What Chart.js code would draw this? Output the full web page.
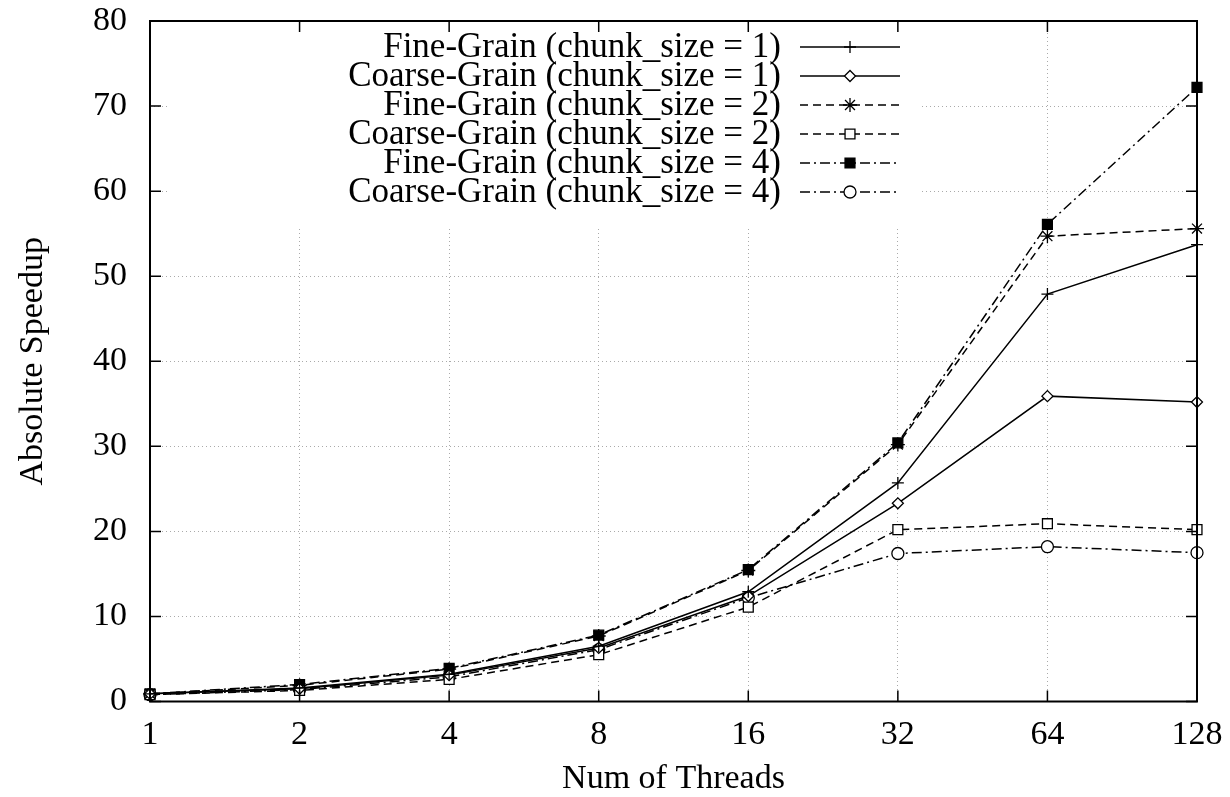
<!DOCTYPE html>
<html>
<head>
<meta charset="utf-8">
<script src="https://cdn.jsdelivr.net/npm/chart.js@4/dist/chart.umd.min.js"></script>
<style>
  html, body { margin: 0; padding: 0; background: #fff; }
  #wrap { width: 1230px; height: 797px; position: relative; }
</style>
</head>
<body>
<div id="wrap"><canvas id="speedup"></canvas></div>
<script>
// threads (x categories, log2 spaced)
const threads = ['1', '2', '4', '8', '16', '32', '64', '128'];
const yTicks = [0, 10, 20, 30, 40, 50, 60, 70, 80];

// absolute speedup
const fine1   = [0.9, 1.6, 3.2, 6.5, 12.9, 25.7, 47.9, 53.7];
const coarse1 = [0.9, 1.5, 3.1, 6.3, 12.4, 23.3, 35.9, 35.2];
const fine2   = [0.9, 1.9, 3.8, 7.7, 15.4, 30.2, 54.7, 55.6];
const coarse2 = [0.8, 1.3, 2.6, 5.5, 11.1, 20.2, 20.9, 20.2];
const fine4   = [0.9, 2.0, 3.9, 7.8, 15.5, 30.4, 56.1, 72.2];
const coarse4 = [0.8, 1.4, 2.9, 6.1, 12.2, 17.4, 18.2, 17.5];

const FONT = '"Liberation Serif", "Times New Roman", serif';
const FSIZE = 34;
const dashed = [8, 5];
const dashDot = [10, 4, 2, 4];

function serie(label, data, dash, style, radius, fill) {
  return {
    label: label,
    data: data,
    borderColor: '#000',
    borderWidth: 1.5,
    borderDash: dash,
    pointStyle: style,
    pointRadius: radius,
    pointBorderWidth: 1.3,
    pointBorderColor: '#000',
    pointBackgroundColor: fill,
    fill: false,
    tension: 0
  };
}

const datasets = [
  serie('Fine-Grain (chunk_size = 1)', fine1, [], 'cross', 6, '#000'),
  serie('Coarse-Grain (chunk_size = 1)', coarse1, [], 'rectRot', 5.5, '#fff'),
  serie('Fine-Grain (chunk_size = 2)', fine2, dashed, 'star', 7, '#000'),
  serie('Coarse-Grain (chunk_size = 2)', coarse2, dashed, 'rect', 7, '#fff'),
  serie('Fine-Grain (chunk_size = 4)', fine4, dashDot, 'rect', 7, '#000'),
  serie('Coarse-Grain (chunk_size = 4)', coarse4, dashDot, 'circle', 6, '#fff')
];

// blank box behind the key, like gnuplot does
const keyBlank = {
  id: 'keyBlank',
  beforeDatasetsDraw(chart) {
    const a = chart.chartArea, ctx = chart.ctx;
    ctx.save();
    ctx.fillStyle = '#fff';
    ctx.fillRect(a.left + 17, a.top, 920 - (a.left + 17), 228 - a.top);
    ctx.restore();
  }
};

// frame + inward ticks on all four sides
const frame = {
  id: 'frame',
  afterDatasetsDraw(chart) {
    const a = chart.chartArea, ctx = chart.ctx;
    const xs = chart.scales.x, ys = chart.scales.y;
    const t = 11;
    ctx.save();
    ctx.strokeStyle = '#000';
    ctx.lineWidth = 1.5;
    ctx.setLineDash([]);
    ctx.beginPath();
    ys.ticks.forEach(tk => {
      const y = ys.getPixelForValue(tk.value);
      ctx.moveTo(a.left, y); ctx.lineTo(a.left + t, y);
      ctx.moveTo(a.right, y); ctx.lineTo(a.right - t, y);
    });
    threads.forEach((v, i) => {
      const x = xs.getPixelForValue(i);
      ctx.moveTo(x, a.bottom); ctx.lineTo(x, a.bottom - t);
      ctx.moveTo(x, a.top); ctx.lineTo(x, a.top + t);
    });
    ctx.stroke();
    ctx.lineWidth = 2;
    ctx.strokeRect(a.left, a.top, a.right - a.left, a.bottom - a.top);
    ctx.restore();
  }
};

// gnuplot style key: right aligned text, sample line on the right
const gnuKey = {
  id: 'gnuKey',
  afterDatasetsDraw(chart) {
    const a = chart.chartArea, ctx = chart.ctx;
    ctx.save();
    ctx.font = '35px ' + FONT;
    ctx.textAlign = 'right';
    ctx.textBaseline = 'middle';
    chart.data.datasets.forEach((ds, i) => {
      const y = a.top + 26 + i * 29;
      ctx.fillStyle = '#000';
      ctx.fillText(ds.label, 781, y + 1);
      ctx.strokeStyle = '#000';
      ctx.lineWidth = ds.borderWidth;
      ctx.setLineDash(ds.borderDash);
      ctx.beginPath();
      ctx.moveTo(800, y); ctx.lineTo(900, y);
      ctx.stroke();
      ctx.setLineDash([]);
      ctx.fillStyle = ds.pointBackgroundColor;
      ctx.lineWidth = ds.pointBorderWidth;
      Chart.helpers.drawPoint(ctx, {
        pointStyle: ds.pointStyle, radius: ds.pointRadius,
        borderWidth: ds.pointBorderWidth, rotation: 0
      }, 850, y);
    });
    ctx.restore();
  }
};

new Chart(document.getElementById('speedup'), {
  type: 'line',
  data: { labels: threads, datasets: datasets },
  plugins: [keyBlank, frame, gnuKey],
  options: {
    responsive: true,
    maintainAspectRatio: false,
    animation: false,
    layout: { padding: { top: 21, right: 33, left: 0, bottom: 0 } },
    plugins: {
      legend: { display: false },
      tooltip: { enabled: false }
    },
    scales: {
      x: {
        type: 'category',
        offset: false,
        afterFit: s => { s.height = 95.5; s.paddingLeft = 0; s.paddingRight = 0; },
        grid: { color: '#aaa', lineWidth: 1, drawTicks: false },
        border: { display: false, dash: [1, 3] },
        ticks: { color: '#000', padding: 13, font: { family: FONT, size: FSIZE }, maxRotation: 0 },
        title: {
          display: true, text: 'Num of Threads', color: '#000',
          font: { family: FONT, size: FSIZE }, padding: { top: 0, bottom: -2 }
        }
      },
      y: {
        min: 0, max: 80,
        afterFit: s => { s.width = 150; s.paddingTop = 0; s.paddingBottom = 0; },
        afterBuildTicks: s => { s.ticks = yTicks.map(v => ({ value: v })); },
        grid: { color: '#aaa', lineWidth: 1, drawTicks: false },
        border: { display: false, dash: [1, 3] },
        ticks: { color: '#000', padding: 23, font: { family: FONT, size: FSIZE } },
        title: {
          display: true, text: 'Absolute Speedup', color: '#000',
          font: { family: FONT, size: FSIZE }, padding: { top: 13, bottom: 0 }
        }
      }
    }
  }
});
</script>
</body>
</html>
